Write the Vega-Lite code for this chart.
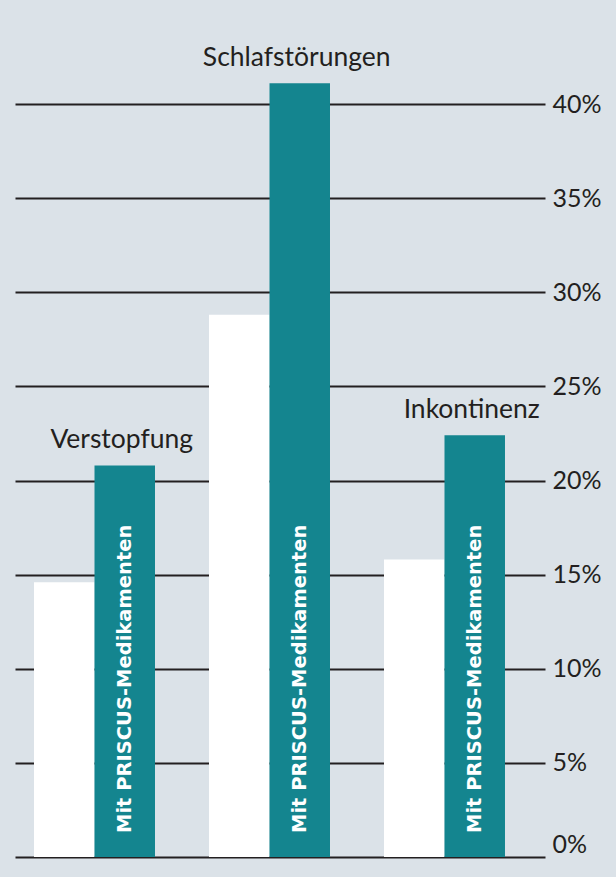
{
  "$schema": "https://vega.github.io/schema/vega-lite/v6.json",
  "width": 530,
  "height": 753,
  "autosize": {"type": "none"},
  "padding": {"left": 15, "top": 104, "right": 71, "bottom": 20},
  "background": "#dbe2e8",
  "config": {"view": {"stroke": null}},
  "data": {
    "values": [
      {"Krankheit": "Verstopfung", "Gruppe": "Ohne PRISCUS-Medikamente", "Anteil": 14.6},
      {"Krankheit": "Verstopfung", "Gruppe": "Mit PRISCUS-Medikamenten", "Anteil": 20.8},
      {"Krankheit": "Schlafstörungen", "Gruppe": "Ohne PRISCUS-Medikamente", "Anteil": 28.8},
      {"Krankheit": "Schlafstörungen", "Gruppe": "Mit PRISCUS-Medikamenten", "Anteil": 41.1},
      {"Krankheit": "Inkontinenz", "Gruppe": "Ohne PRISCUS-Medikamente", "Anteil": 15.8},
      {"Krankheit": "Inkontinenz", "Gruppe": "Mit PRISCUS-Medikamenten", "Anteil": 22.4}
    ]
  },
  "encoding": {
    "x": {
      "field": "Krankheit",
      "type": "nominal",
      "sort": ["Verstopfung", "Schlafstörungen", "Inkontinenz"],
      "axis": null,
      "scale": {"paddingInner": 0.3086, "paddingOuter": 0.1686, "align": 0.322}
    },
    "xOffset": {
      "field": "Gruppe",
      "type": "nominal",
      "sort": ["Ohne PRISCUS-Medikamente", "Mit PRISCUS-Medikamenten"],
      "scale": {"paddingInner": 0, "paddingOuter": 0}
    },
    "y": {
      "field": "Anteil",
      "type": "quantitative",
      "scale": {"domain": [0, 40], "nice": false},
      "axis": {
        "orient": "right",
        "title": null,
        "values": [0, 5, 10, 15, 20, 25, 30, 35, 40],
        "labelExpr": "datum.value + '%'",
        "domain": false,
        "ticks": false,
        "grid": true,
        "gridColor": "#231f20",
        "gridWidth": 2,
        "gridOpacity": 1,
        "labelPadding": 7,
        "labelAlign": "left",
        "labelBaseline": {"condition": {"test": "datum.value === 0", "value": "bottom"}, "value": "middle"},
        "labelFont": "Lato",
        "labelFontSize": 25,
        "labelColor": "#231f20"
      }
    }
  },
  "layer": [
    {
      "mark": {"type": "bar"},
      "encoding": {
        "color": {
          "field": "Gruppe",
          "type": "nominal",
          "scale": {"domain": ["Ohne PRISCUS-Medikamente", "Mit PRISCUS-Medikamenten"], "range": ["#ffffff", "#14858f"]},
          "legend": null
        }
      }
    },
    {
      "transform": [{"filter": "datum.Gruppe === 'Mit PRISCUS-Medikamenten'"}],
      "mark": {"type": "text", "angle": 270, "align": "left", "baseline": "middle", "dx": 24, "color": "#ffffff", "fontWeight": "bold", "fontSize": 19.5, "font": "DejaVu Sans"},
      "encoding": {
        "y": {"datum": 0},
        "text": {"field": "Gruppe"}
      }
    },
    {
      "transform": [{"filter": "datum.Gruppe === 'Mit PRISCUS-Medikamenten'"}],
      "mark": {"type": "text", "dy": -17, "dx": -3, "baseline": "alphabetic", "fontSize": 26.5, "font": "Lato", "color": "#231f20"},
      "encoding": {
        "text": {"field": "Krankheit"}
      }
    }
  ]
}
